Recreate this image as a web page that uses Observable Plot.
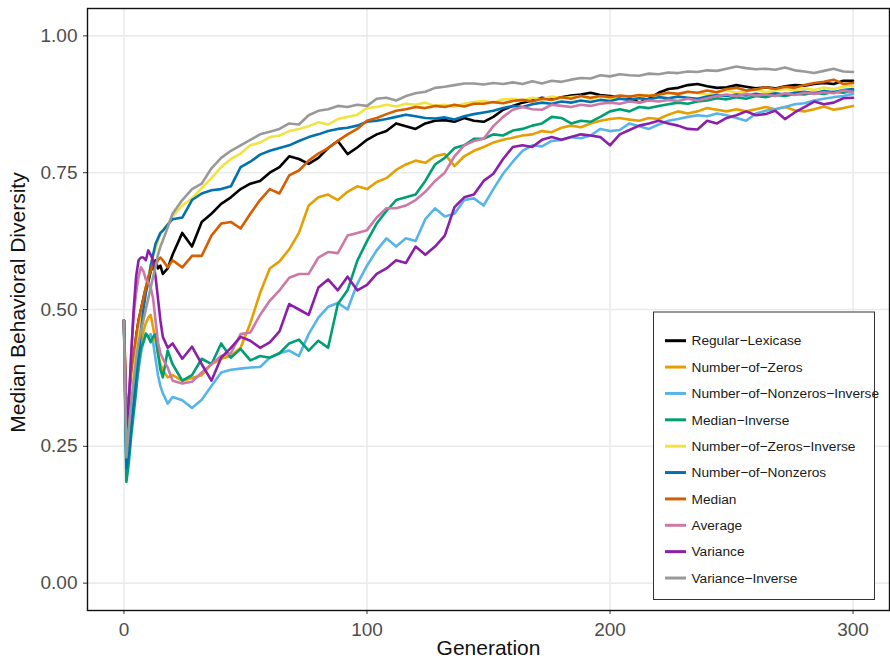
<!DOCTYPE html>
<html><head><meta charset="utf-8">
<script src="https://cdn.jsdelivr.net/npm/d3@7"></script>
<script src="https://cdn.jsdelivr.net/npm/@observablehq/plot@0.6"></script>
<style>
body{margin:0;background:#fff;}
#chart{position:relative;width:890px;height:658px;}
</style>
</head><body><div id="chart"></div>
<script>
const gens = [0,1,2,3,4,5,6,7,8,9,10,11,12,13,14,15,16,18,20,
  24,28,32,36,40,44,48,52,56,60,
  64,68,72,76,80,84,88,92,96,100,
  104,108,112,116,120,124,128,132,136,140,
  144,148,152,156,160,164,168,172,176,180,
  184,188,192,196,200,204,208,212,216,220,
  224,228,232,236,240,244,248,252,256,260,
  264,268,272,276,280,284,288,292,296,300];

const seriesNames = ["Regular-Lexicase","Number-of-Zeros","Number-of-Nonzeros-Inverse","Median-Inverse",
  "Number-of-Zeros-Inverse","Number-of-Nonzeros","Median","Average","Variance","Variance-Inverse"];
const seriesColors = ["#000000","#E69F00","#56B4E9","#009E73","#F0E442","#0072B2","#D55E00","#CC79A7","#8B1FA9","#999999"];

const xTicks = [0,100,200,300];
const yTicks = [0,0.25,0.5,0.75,1];

const regularLexicase = [0.48,0.27,0.30,0.36,0.41,0.45,0.48,0.50,0.52,0.54,0.55,0.57,0.58,0.59,0.575,0.58,0.565,0.575,0.60,
  0.64,0.615,0.66,0.675,0.693,0.705,0.72,0.73,0.735,0.75,
  0.76,0.78,0.775,0.766,0.777,0.795,0.808,0.784,0.796,0.81,
  0.82,0.826,0.84,0.835,0.83,0.84,0.845,0.846,0.843,0.85,
  0.845,0.843,0.852,0.865,0.872,0.878,0.882,0.887,0.884,0.888,
  0.891,0.893,0.896,0.892,0.89,0.888,0.887,0.878,0.885,0.896,
  0.903,0.905,0.91,0.912,0.908,0.905,0.906,0.91,0.907,0.904,
  0.906,0.904,0.908,0.91,0.909,0.912,0.914,0.912,0.918,0.918];

const numberOfZeros = [0.48,0.25,0.29,0.33,0.36,0.39,0.42,0.44,0.46,0.475,0.485,0.49,0.467,0.443,0.42,0.40,0.389,0.376,0.38,
  0.37,0.375,0.38,0.40,0.41,0.415,0.43,0.475,0.53,0.575,
  0.588,0.61,0.64,0.69,0.705,0.71,0.70,0.715,0.725,0.72,
  0.733,0.74,0.755,0.765,0.772,0.768,0.78,0.784,0.762,0.78,
  0.79,0.797,0.805,0.81,0.814,0.818,0.82,0.826,0.824,0.832,
  0.836,0.833,0.84,0.845,0.848,0.85,0.847,0.845,0.85,0.848,
  0.856,0.862,0.858,0.862,0.868,0.865,0.862,0.866,0.862,0.866,
  0.87,0.866,0.87,0.864,0.862,0.866,0.871,0.865,0.868,0.872];

const numberOfNonzerosInverse = [0.48,0.22,0.25,0.30,0.33,0.36,0.39,0.42,0.44,0.455,0.45,0.455,0.44,0.41,0.38,0.36,0.347,0.328,0.34,
  0.334,0.32,0.335,0.36,0.385,0.39,0.392,0.394,0.395,0.412,
  0.42,0.425,0.415,0.455,0.485,0.505,0.512,0.50,0.547,0.58,
  0.608,0.63,0.615,0.63,0.625,0.665,0.685,0.67,0.675,0.70,
  0.703,0.69,0.72,0.748,0.77,0.79,0.80,0.798,0.808,0.81,
  0.815,0.813,0.818,0.83,0.826,0.828,0.84,0.835,0.83,0.838,
  0.845,0.848,0.852,0.855,0.853,0.858,0.855,0.85,0.845,0.858,
  0.863,0.866,0.87,0.875,0.877,0.882,0.885,0.888,0.89,0.894];

const medianInverse = [0.48,0.185,0.22,0.27,0.31,0.35,0.40,0.43,0.44,0.456,0.45,0.44,0.45,0.455,0.42,0.39,0.376,0.425,0.40,
  0.37,0.38,0.41,0.40,0.438,0.412,0.428,0.407,0.415,0.412,
  0.42,0.438,0.445,0.425,0.443,0.43,0.51,0.535,0.589,0.625,
  0.657,0.68,0.70,0.705,0.71,0.735,0.765,0.777,0.795,0.80,
  0.812,0.812,0.82,0.818,0.827,0.83,0.836,0.84,0.852,0.85,
  0.84,0.845,0.843,0.852,0.862,0.866,0.862,0.87,0.868,0.872,
  0.875,0.878,0.876,0.88,0.882,0.886,0.884,0.888,0.885,0.89,
  0.888,0.892,0.89,0.894,0.893,0.896,0.894,0.898,0.896,0.90];

const numberOfZerosInverse = [0.48,0.27,0.30,0.34,0.39,0.43,0.46,0.49,0.51,0.54,0.56,0.58,0.60,0.61,0.625,0.64,0.645,0.655,0.67,
  0.69,0.703,0.722,0.74,0.76,0.775,0.785,0.80,0.805,0.815,
  0.818,0.826,0.83,0.835,0.842,0.838,0.848,0.852,0.856,0.868,
  0.87,0.874,0.871,0.876,0.874,0.878,0.872,0.874,0.87,0.876,
  0.879,0.881,0.878,0.884,0.885,0.882,0.887,0.884,0.889,0.886,
  0.888,0.89,0.884,0.889,0.887,0.885,0.89,0.888,0.892,0.89,
  0.896,0.893,0.898,0.895,0.893,0.897,0.9,0.896,0.899,0.902,
  0.897,0.9,0.903,0.9,0.904,0.901,0.905,0.903,0.907,0.909];

const numberOfNonzeros = [0.48,0.21,0.24,0.29,0.33,0.38,0.42,0.46,0.50,0.53,0.55,0.58,0.60,0.62,0.63,0.64,0.644,0.655,0.665,
  0.668,0.70,0.712,0.718,0.72,0.725,0.76,0.77,0.783,0.79,
  0.795,0.80,0.808,0.815,0.82,0.826,0.83,0.832,0.836,0.843,
  0.845,0.848,0.852,0.856,0.853,0.85,0.849,0.851,0.847,0.853,
  0.857,0.86,0.863,0.868,0.872,0.87,0.875,0.878,0.876,0.88,
  0.878,0.882,0.879,0.883,0.881,0.885,0.883,0.886,0.884,0.888,
  0.886,0.889,0.887,0.885,0.889,0.892,0.89,0.893,0.891,0.894,
  0.892,0.895,0.893,0.896,0.898,0.895,0.899,0.897,0.901,0.903];

const median = [0.48,0.32,0.34,0.39,0.42,0.45,0.48,0.50,0.52,0.54,0.56,0.57,0.585,0.58,0.59,0.595,0.59,0.577,0.59,
  0.577,0.598,0.598,0.635,0.657,0.66,0.648,0.675,0.70,0.72,
  0.712,0.745,0.754,0.772,0.785,0.795,0.808,0.82,0.83,0.845,
  0.85,0.857,0.863,0.866,0.87,0.868,0.872,0.87,0.874,0.871,
  0.876,0.876,0.879,0.877,0.881,0.883,0.88,0.885,0.883,0.888,
  0.885,0.89,0.887,0.89,0.888,0.891,0.889,0.892,0.89,0.893,
  0.896,0.894,0.898,0.896,0.9,0.897,0.903,0.905,0.9,0.902,
  0.906,0.903,0.907,0.905,0.91,0.914,0.916,0.92,0.912,0.914];

const average = [0.48,0.27,0.32,0.42,0.49,0.53,0.56,0.577,0.57,0.555,0.55,0.54,0.52,0.48,0.44,0.42,0.41,0.394,0.37,
  0.365,0.368,0.385,0.40,0.415,0.42,0.455,0.458,0.49,0.516,
  0.535,0.558,0.565,0.565,0.595,0.605,0.603,0.635,0.64,0.645,
  0.668,0.685,0.685,0.69,0.70,0.715,0.735,0.75,0.78,0.80,
  0.808,0.812,0.835,0.852,0.865,0.87,0.866,0.865,0.874,0.872,
  0.87,0.874,0.872,0.876,0.878,0.876,0.88,0.878,0.882,0.88,
  0.883,0.881,0.885,0.882,0.886,0.89,0.893,0.89,0.894,0.891,
  0.893,0.89,0.895,0.892,0.896,0.894,0.897,0.895,0.9,0.898];

const variance = [0.48,0.28,0.33,0.42,0.50,0.56,0.59,0.595,0.595,0.59,0.608,0.60,0.59,0.56,0.52,0.48,0.45,0.43,0.438,
  0.41,0.432,0.40,0.37,0.412,0.43,0.45,0.443,0.43,0.44,
  0.46,0.51,0.50,0.49,0.54,0.555,0.535,0.56,0.535,0.545,
  0.565,0.575,0.59,0.585,0.615,0.60,0.615,0.635,0.687,0.705,
  0.71,0.735,0.748,0.775,0.797,0.80,0.797,0.81,0.815,0.81,
  0.815,0.82,0.818,0.815,0.80,0.82,0.828,0.836,0.84,0.845,
  0.84,0.836,0.83,0.829,0.845,0.84,0.85,0.855,0.862,0.855,
  0.857,0.863,0.848,0.86,0.87,0.88,0.875,0.878,0.886,0.887];

const varianceInverse = [0.48,0.23,0.28,0.33,0.37,0.41,0.44,0.46,0.48,0.50,0.52,0.54,0.56,0.577,0.60,0.615,0.626,0.65,0.675,
  0.70,0.72,0.73,0.758,0.777,0.79,0.80,0.81,0.82,0.825,
  0.83,0.84,0.838,0.855,0.863,0.866,0.872,0.87,0.874,0.872,
  0.885,0.887,0.882,0.89,0.895,0.898,0.905,0.907,0.91,0.913,
  0.913,0.911,0.914,0.912,0.915,0.912,0.917,0.913,0.918,0.916,
  0.92,0.923,0.922,0.928,0.926,0.93,0.928,0.927,0.931,0.93,
  0.933,0.932,0.935,0.934,0.937,0.936,0.94,0.944,0.941,0.939,
  0.94,0.938,0.942,0.937,0.935,0.932,0.936,0.94,0.935,0.934];

const valueLists = [regularLexicase, numberOfZeros, numberOfNonzerosInverse, medianInverse,
  numberOfZerosInverse, numberOfNonzeros, median, average, variance, varianceInverse];

const rows = [];
seriesNames.forEach((name, i) => {
  valueLists[i].forEach((v, j) => rows.push({series: name, generation: gens[j], value: v}));
});

const FONT = "'Liberation Sans', Arial, Helvetica, sans-serif";

const plot = Plot.plot({
  width: 890,
  height: 658,
  marginLeft: 87,
  marginRight: 1,
  marginTop: 8,
  marginBottom: 48,
  style: {fontFamily: FONT, background: "white", overflow: "visible"},
  x: {domain: [-15, 315]},
  y: {domain: [-0.05, 1.05]},
  color: {domain: seriesNames, range: seriesColors},
  marks: [
    Plot.gridX(xTicks, {stroke: "#EBEBEB", strokeOpacity: 1, strokeWidth: 1.6}),
    Plot.gridY(yTicks, {stroke: "#EBEBEB", strokeOpacity: 1, strokeWidth: 1.6}),
    Plot.axisX(xTicks, {tickSize: 4, tickPadding: 8, fontSize: 19, fill: "#4D4D4D", stroke: "#333333", label: null}),
    Plot.axisY(yTicks, {tickSize: 4, tickPadding: 6, fontSize: 19, fill: "#4D4D4D", stroke: "#333333", tickFormat: d3.format(".2f"), label: null}),
    Plot.line(rows, {x: "generation", y: "value", z: "series", stroke: "series", strokeWidth: 2.6, strokeLinejoin: "round"}),
    Plot.frame({stroke: "#111111", strokeWidth: 1.4}),
    Plot.text(["Generation"], {text: d => d, frameAnchor: "bottom", textAnchor: "middle", dy: 44, fontSize: 21, fill: "#111111"}),
    Plot.text(["Median Behavioral Diversity"], {text: d => d, frameAnchor: "left", textAnchor: "middle", lineAnchor: "middle", dx: -69, dy: -7, rotate: -90, fontSize: 21, fill: "#111111"})
  ]
});

document.getElementById("chart").appendChild(plot);

// legend
const svg = d3.select(plot);
const lg = svg.append("g").attr("font-family", FONT).attr("text-anchor", "start");
lg.append("rect").attr("x", 653.5).attr("y", 312).attr("width", 221).attr("height", 287.5)
  .attr("fill", "white").attr("stroke", "#333333").attr("stroke-width", 1);
seriesNames.forEach((name, i) => {
  const cy = 340.7 + i * 26.37;
  lg.append("line").attr("x1", 665).attr("x2", 686).attr("y1", cy).attr("y2", cy)
    .attr("stroke", seriesColors[i]).attr("stroke-width", 3);
  lg.append("text").attr("x", 691.5).attr("y", cy).attr("dy", "0.35em")
    .attr("text-anchor", "start")
    .attr("font-size", 13.7).attr("fill", "#1a1a1a")
    .text(name.replace(/-/g, "\u2212"));
});
</script>
</body></html>
